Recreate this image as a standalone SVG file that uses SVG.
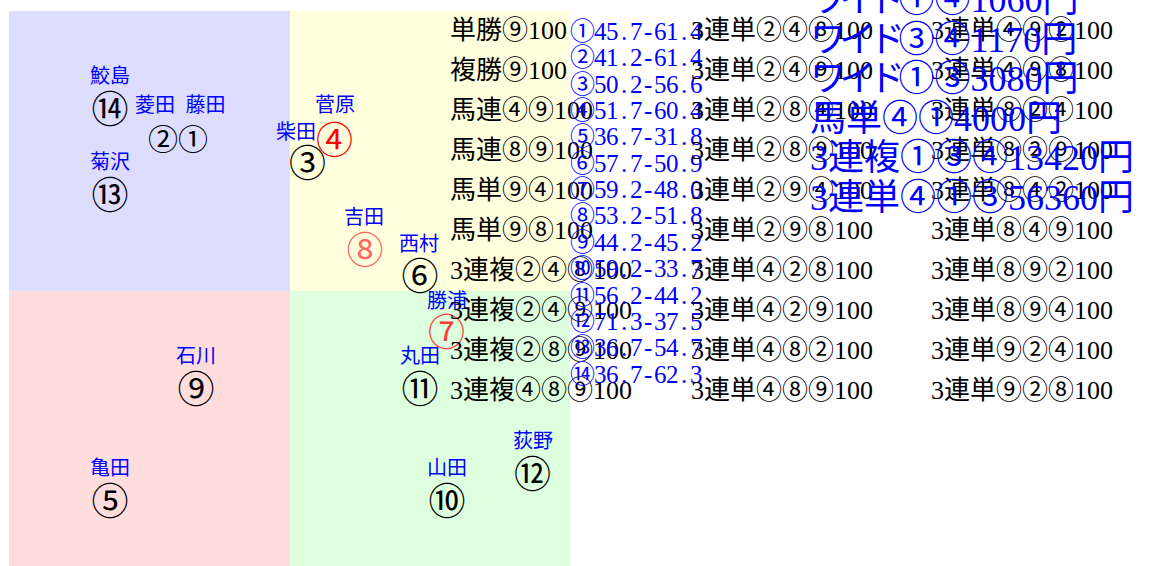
<svg xmlns="http://www.w3.org/2000/svg" width="1162" height="566" viewBox="0 0 1162 566">
<style>
.lbl{font-family:"Noto Sans CJK JP",sans-serif;font-size:20px;fill:#0000ff;text-anchor:middle}
.num{font-family:"Noto Sans CJK JP",sans-serif;font-size:37px;fill:#000;text-anchor:middle}
.red{fill:#ff0000}
.pink{fill:#ff6464}
.lst{font-family:"Liberation Serif","Noto Sans CJK JP",serif;font-size:26px;fill:#000}
.odds{font-family:"Liberation Serif","Noto Sans CJK JP",serif;font-size:25px;fill:#0000ff}
.pay{font-family:"Liberation Serif","Noto Sans CJK JP",serif;font-size:36px;fill:#0000ff}
.c{font-family:"Noto Sans CJK JP",sans-serif}
.kana{letter-spacing:-6.5px}
</style>
<rect width="1162" height="566" fill="#ffffff"/>
<g id="areas">
<rect x="9" y="11" width="281" height="280" fill="#ddddff"/>
<rect x="290" y="11" width="280" height="280" fill="#ffffdd"/>
<rect x="9" y="291" width="281" height="275" fill="#ffdddd"/>
<rect x="290" y="291" width="280" height="275" fill="#ddffdd"/>
</g>
<g id="connectors"/>
<g id="node-14"><text class="lbl" x="110" y="83">鮫島</text><text class="num" x="110" y="122.5">⑭</text></g>
<g id="node-2-1"><text class="lbl" x="155" y="111.6">菱田</text><text class="lbl" x="205.5" y="111.6">藤田</text><text class="num" x="178" y="150" style="font-size:30px">②①</text></g>
<g id="node-13"><text class="lbl" x="110" y="168.6">菊沢</text><text class="num" x="110" y="208.5">⑬</text></g>
<g id="node-3"><text class="lbl" x="296" y="138.6">柴田</text><text class="num" x="307.5" y="177">③</text></g>
<g id="node-4"><text class="lbl" x="335" y="111.6">菅原</text><text class="num red" x="334.5" y="154">④</text></g>
<g id="node-8"><text class="lbl" x="364" y="224">吉田</text><text class="num pink" x="365" y="264">⑧</text></g>
<g id="node-6"><text class="lbl" x="419" y="251">西村</text><text class="num" x="420" y="290">⑥</text></g>
<g id="node-7"><text class="lbl" x="447" y="307.6">勝浦</text><text class="num" x="446.5" y="345.5" style="fill:#ff3c3c">⑦</text></g>
<g id="node-11"><text class="lbl" x="420" y="362.6">丸田</text><text class="num" x="420" y="402.5">⑪</text></g>
<g id="node-9"><text class="lbl" x="196" y="363">石川</text><text class="num" x="196" y="402.5">⑨</text></g>
<g id="node-5"><text class="lbl" x="110" y="474.6">亀田</text><text class="num" x="110" y="514.5">⑤</text></g>
<g id="node-10"><text class="lbl" x="447" y="475">山田</text><text class="num" x="447" y="514.5">⑩</text></g>
<g id="node-12"><text class="lbl" x="533" y="447.6">荻野</text><text class="num" x="532.5" y="487.5">⑫</text></g>
<g id="bets-1" class="lst">
<text x="450" y="39">単勝<tspan class="c">⑨</tspan>100</text>
<text x="450" y="79">複勝<tspan class="c">⑨</tspan>100</text>
<text x="450" y="119">馬連<tspan class="c">④⑨</tspan>100</text>
<text x="450" y="159">馬連<tspan class="c">⑧⑨</tspan>100</text>
<text x="450" y="199">馬単<tspan class="c">⑨④</tspan>100</text>
<text x="450" y="239">馬単<tspan class="c">⑨⑧</tspan>100</text>
<text x="450" y="279">3連複<tspan class="c">②④⑧</tspan>100</text>
<text x="450" y="319">3連複<tspan class="c">②④⑨</tspan>100</text>
<text x="450" y="359">3連複<tspan class="c">②⑧⑨</tspan>100</text>
<text x="450" y="399">3連複<tspan class="c">④⑧⑨</tspan>100</text>
</g>
<g id="odds" class="odds">
<text y="40" x="570 594 606 621 630 644 654 666 681 690"><tspan class="c">①</tspan>45.7-61.4</text>
<text y="66.3" x="570 594 606 621 630 644 654 666 681 690"><tspan class="c">②</tspan>41.2-61.4</text>
<text y="92.7" x="570 594 606 621 630 644 654 666 681 690"><tspan class="c">③</tspan>50.2-56.6</text>
<text y="119" x="570 594 606 621 630 644 654 666 681 690"><tspan class="c">④</tspan>51.7-60.4</text>
<text y="145.4" x="570 594 606 621 630 644 654 666 681 690"><tspan class="c">⑤</tspan>36.7-31.8</text>
<text y="171.7" x="570 594 606 621 630 644 654 666 681 690"><tspan class="c">⑥</tspan>57.7-50.9</text>
<text y="198.1" x="570 594 606 621 630 644 654 666 681 690"><tspan class="c">⑦</tspan>59.2-48.0</text>
<text y="224.4" x="570 594 606 621 630 644 654 666 681 690"><tspan class="c">⑧</tspan>53.2-51.8</text>
<text y="250.8" x="570 594 606 621 630 644 654 666 681 690"><tspan class="c">⑨</tspan>44.2-45.2</text>
<text y="277.1" x="570 594 606 621 630 644 654 666 681 690"><tspan class="c">⑩</tspan>59.2-33.7</text>
<text y="303.5" x="570 594 606 621 630 644 654 666 681 690"><tspan class="c">⑪</tspan>56.2-44.2</text>
<text y="329.8" x="570 594 606 621 630 644 654 666 681 690"><tspan class="c">⑫</tspan>71.3-37.5</text>
<text y="356.2" x="570 594 606 621 630 644 654 666 681 690"><tspan class="c">⑬</tspan>36.7-54.7</text>
<text y="382.5" x="570 594 606 621 630 644 654 666 681 690"><tspan class="c">⑭</tspan>36.7-62.3</text>
</g>
<g id="bets-2" class="lst">
<text x="691" y="39">3連単<tspan class="c">②④⑧</tspan>100</text>
<text x="691" y="79">3連単<tspan class="c">②④⑨</tspan>100</text>
<text x="691" y="119">3連単<tspan class="c">②⑧④</tspan>100</text>
<text x="691" y="159">3連単<tspan class="c">②⑧⑨</tspan>100</text>
<text x="691" y="199">3連単<tspan class="c">②⑨④</tspan>100</text>
<text x="691" y="239">3連単<tspan class="c">②⑨⑧</tspan>100</text>
<text x="691" y="279">3連単<tspan class="c">④②⑧</tspan>100</text>
<text x="691" y="319">3連単<tspan class="c">④②⑨</tspan>100</text>
<text x="691" y="359">3連単<tspan class="c">④⑧②</tspan>100</text>
<text x="691" y="399">3連単<tspan class="c">④⑧⑨</tspan>100</text>
</g>
<g id="bets-3" class="lst">
<text x="931" y="39">3連単<tspan class="c">④⑨②</tspan>100</text>
<text x="931" y="79">3連単<tspan class="c">④⑨⑧</tspan>100</text>
<text x="931" y="119">3連単<tspan class="c">⑧②④</tspan>100</text>
<text x="931" y="159">3連単<tspan class="c">⑧②⑨</tspan>100</text>
<text x="931" y="199">3連単<tspan class="c">⑧④②</tspan>100</text>
<text x="931" y="239">3連単<tspan class="c">⑧④⑨</tspan>100</text>
<text x="931" y="279">3連単<tspan class="c">⑧⑨②</tspan>100</text>
<text x="931" y="319">3連単<tspan class="c">⑧⑨④</tspan>100</text>
<text x="931" y="359">3連単<tspan class="c">⑨②④</tspan>100</text>
<text x="931" y="399">3連単<tspan class="c">⑨②⑧</tspan>100</text>
</g>
<g id="payouts" class="pay">
<text x="810" y="12"><tspan class="kana">ワイド</tspan><tspan class="c">①④</tspan>1060円</text>
<text x="810" y="51.5"><tspan class="kana">ワイド</tspan><tspan class="c">③④</tspan>1170円</text>
<text x="810" y="91"><tspan class="kana">ワイド</tspan><tspan class="c">①③</tspan>3080円</text>
<text x="810" y="130.5">馬単<tspan class="c">④①</tspan>4000円</text>
<text x="810" y="170">3連複<tspan class="c">①③④</tspan>13420円</text>
<text x="810" y="209.5">3連単<tspan class="c">④①③</tspan>56360円</text>
</g>
</svg>
